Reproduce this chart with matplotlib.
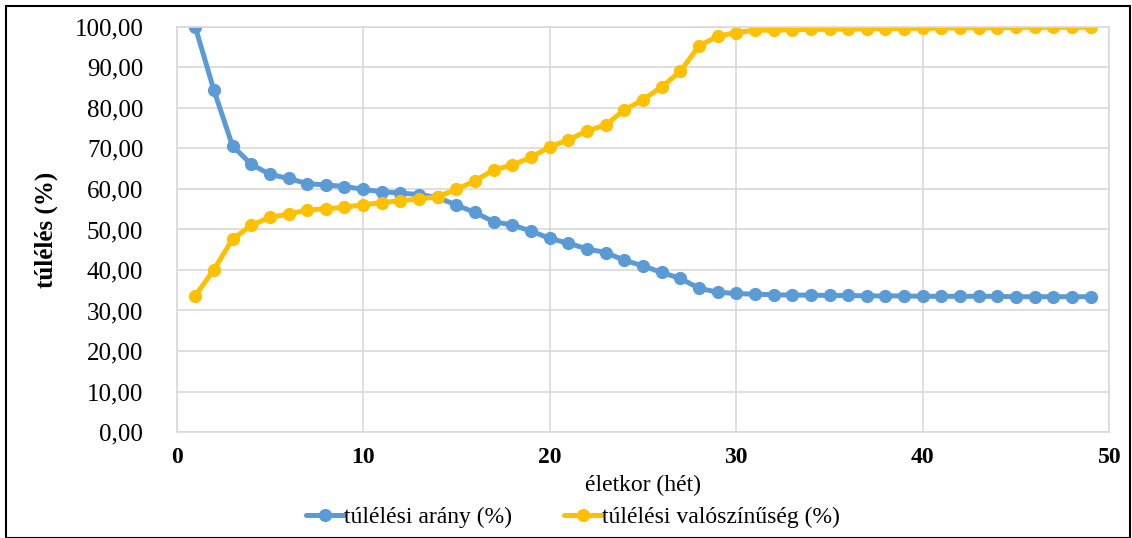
import matplotlib
matplotlib.use('AGG')
import matplotlib.pyplot as plt
from matplotlib.patches import Rectangle

weeks = list(range(1, 50))
survival_rate = [100.0, 84.4, 70.6, 66.1, 63.6, 62.6, 61.3, 61.0, 60.6, 59.9,
                 59.3, 59.0, 58.6, 57.9, 56.0, 54.2, 51.9, 51.1, 49.6, 47.8,
                 46.6, 45.2, 44.3, 42.4, 41.0, 39.4, 37.9, 35.5, 34.5, 34.2,
                 34.0, 33.9, 33.8, 33.8, 33.7, 33.7, 33.6, 33.6, 33.6, 33.5,
                 33.5, 33.5, 33.5, 33.5, 33.4, 33.4, 33.4, 33.4, 33.4]
survival_prob = [33.6, 40.1, 47.6, 51.0, 53.0, 53.8, 54.8, 55.1, 55.5, 56.1,
                 56.6, 57.1, 57.5, 58.1, 59.9, 62.0, 64.7, 65.9, 67.8, 70.4,
                 72.1, 74.3, 75.8, 79.5, 82.0, 85.2, 89.0, 95.3, 97.7, 98.6,
                 99.2, 99.2, 99.3, 99.4, 99.4, 99.5, 99.5, 99.6, 99.6, 99.7,
                 99.7, 99.8, 99.8, 99.8, 99.9, 99.9, 99.9, 99.9, 99.9]
series_names = ['túlélési arány (%)', 'túlélési valószínűség (%)']
colors = ['#5B9BD5', '#FFC000']

plt.rcParams['font.family'] = ['Liberation Serif', 'DejaVu Serif']

fig = plt.figure(figsize=(11.32, 5.38), dpi=100)
ax = fig.add_axes([0.156, 0.197, 0.824, 0.753])

for vals, name, c in zip([survival_rate, survival_prob], series_names, colors):
    ax.plot(weeks, vals, '-o', color=c, lw=3.6, ms=8.5, label=name,
            solid_capstyle='round', solid_joinstyle='round')

ax.set_xlim(0, 50)
ax.set_ylim(0, 100)
ax.set_xticks(range(0, 51, 10))
ax.set_yticks(range(0, 101, 10))
ax.set_yticklabels(['%d,00' % v for v in range(0, 101, 10)], fontsize=18)
ax.set_xticklabels([str(v) for v in range(0, 51, 10)], fontsize=17, fontweight='bold')
ax.tick_params(length=0)
ax.tick_params(axis='y', pad=24)
ax.tick_params(axis='x', pad=11)
ax.grid(True, color='#d9d9d9', lw=1.2)
ax.set_axisbelow(True)
for s in ax.spines.values():
    s.set_color('#d9d9d9')
    s.set_linewidth(1.2)

ax.set_xlabel('életkor (hét)', fontsize=17, labelpad=5)
ax.set_ylabel('túlélés (%)', fontsize=18, fontweight='bold', labelpad=12)

ax.legend(loc='center', bbox_to_anchor=(0.425, -0.21), ncol=2, frameon=False,
          fontsize=17, handlelength=1.6, handletextpad=0.0, columnspacing=2.2,
          borderaxespad=0)

fig.patches.append(Rectangle((0.005, 0.0), 0.993, 0.988, transform=fig.transFigure,
                             fill=False, edgecolor='black', lw=1.5))

fig.savefig('out.png')
plt.close(fig)
